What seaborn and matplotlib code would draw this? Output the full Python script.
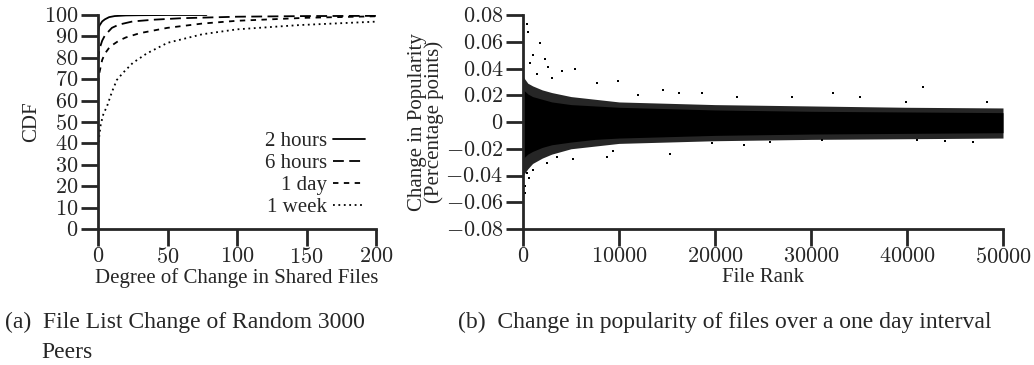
import numpy as np
import seaborn as sns
import matplotlib.pyplot as plt

sns.set_style('ticks')
plt.rcParams['font.family'] = ['Liberation Serif', 'DejaVu Serif']
plt.rcParams['mathtext.fontset'] = 'cm'

# (a) CDF of degree of change in shared files
deg_2h = [0, 1, 3, 5, 8, 12, 20, 30, 50, 78]
cdf_2h = [92, 95, 97, 98, 99, 99.5, 99.8, 99.9, 100, 100]
deg_6h = [0, 1, 3, 5, 10, 15, 25, 40, 60, 100, 150, 200]
cdf_6h = [78, 84, 88, 90.5, 94, 95.5, 97, 97.8, 98.5, 99.2, 99.5, 99.6]
deg_1d = [0, 1, 3, 5, 8.6, 15, 20, 30, 50, 75, 100, 150, 200]
cdf_1d = [68, 73, 79, 82, 85.2, 88, 89.5, 91.5, 94, 96, 97.3, 98.7, 99.4]
deg_1w = [0, 1, 2, 4, 6.3, 10, 13.5, 18, 25, 35, 50, 75, 100, 145, 200]
cdf_1w = [38, 44, 49, 54, 57, 64, 69.6, 73, 77.6, 82, 87, 91, 93.3, 95.3, 96.9]
x1_ticks = [0, 50, 100, 150, 200]
y1_ticks = [0, 10, 20, 30, 40, 50, 60, 70, 80, 90, 100]

# (b) change in popularity vs file rank: dense core, speckled fringe, stray points
rank_env = [0, 200, 500, 1000, 2000, 3000, 5000, 7500, 10000, 15000, 20000, 30000, 40000, 50000]
core_hi = [0.024, 0.023, 0.021, 0.019, 0.017, 0.015, 0.013, 0.012, 0.011, 0.010, 0.009, 0.008, 0.0075, 0.007]
core_lo = [-0.027, -0.026, -0.024, -0.022, -0.019, -0.017, -0.015, -0.013, -0.012, -0.011, -0.010, -0.009, -0.0085, -0.008]
fringe_hi = [0.034, 0.032, 0.029, 0.027, 0.024, 0.022, 0.019, 0.017, 0.015, 0.014, 0.013, 0.012, 0.011, 0.0105]
fringe_lo = [-0.040, -0.038, -0.035, -0.031, -0.027, -0.024, -0.020, -0.018, -0.016, -0.015, -0.014, -0.013, -0.0125, -0.012]
out_rank = [385, 550, 1770, 1040, 2290, 4030, 5420, 9930, 7680, 1500, 3000, 2600, 700,
            385, 1040, 210, 200, 9375, 5210, 8720, 600, 2500, 3500,
            14550, 16250, 18600, 32330, 41650, 35100, 27990, 22260, 39870, 48300, 12000,
            15310, 19660, 41010, 46910, 25730, 31110, 23000, 44000]
out_val = [0.073, 0.067, 0.059, 0.050, 0.047, 0.038, 0.040, 0.031, 0.029, 0.036, 0.033, 0.041, 0.044,
           -0.038, -0.036, -0.048, -0.053, -0.022, -0.028, -0.026, -0.042, -0.031, -0.026,
           0.0236, 0.022, 0.022, 0.0217, 0.026, 0.0187, 0.0184, 0.019, 0.015, 0.0147, 0.020,
           -0.0237, -0.016, -0.0132, -0.0153, -0.0153, -0.0132, -0.017, -0.014]
x2_ticks = [0, 10000, 20000, 30000, 40000, 50000]
y2_ticks = [-0.08, -0.06, -0.04, -0.02, 0, 0.02, 0.04, 0.06, 0.08]
y2_labels = ['-0.08', '-0.06', '-0.04', '-0.02', '0', '0.02', '0.04', '0.06', '0.08']

fig = plt.figure(figsize=(10.34, 3.65), dpi=100)
ax1 = fig.add_axes([98 / 1034, 1 - 229 / 365, 278 / 1034, 214 / 365])
ax2 = fig.add_axes([523 / 1034, 1 - 229 / 365, 480 / 1034, 214 / 365])

sns.lineplot(x=deg_2h, y=cdf_2h, ax=ax1, color='black', lw=1.3, label='2 hours')
sns.lineplot(x=deg_6h, y=cdf_6h, ax=ax1, color='black', lw=1.3, label='6 hours')
sns.lineplot(x=deg_1d, y=cdf_1d, ax=ax1, color='black', lw=1.3, label='1 day')
sns.lineplot(x=deg_1w, y=cdf_1w, ax=ax1, color='black', lw=1.3, label='1 week')
styles = ['-', (0, (6, 3)), (0, (3, 3)), (0, (1, 2))]
for line, ls in zip(ax1.get_lines(), styles):
    line.set_linestyle(ls)
ax1.set_xlim(0, 200)
ax1.set_ylim(0, 100)
ax1.set_xticks(x1_ticks, ['$%d$' % v for v in x1_ticks])
ax1.set_yticks(y1_ticks, ['$%d$' % v for v in y1_ticks])
ax1.set_xlabel('Degree of Change in Shared Files', fontsize=15, labelpad=0)
ax1.set_ylabel('CDF', fontsize=15, labelpad=2)
leg = ax1.legend(loc='lower right', bbox_to_anchor=(0.99, 0.015), borderaxespad=0, frameon=False,
                 markerfirst=False, fontsize=15, handlelength=1.55, handletextpad=0.25, labelspacing=0.12)
for t in leg.get_texts():
    t.set_ha('right')
for ls, h in zip(styles, leg.get_lines()):
    h.set_linestyle(ls)

ax2.fill_between(rank_env, fringe_lo, fringe_hi, color='0.15', lw=0)
ax2.fill_between(rank_env, core_lo, core_hi, color='black', lw=0)
sns.scatterplot(x=out_rank, y=out_val, ax=ax2, color='black', s=2.5, marker='s', linewidth=0)
ax2.set_xlim(0, 50000)
ax2.set_ylim(-0.08, 0.08)
ax2.set_xticks(x2_ticks, ['$%d$' % v for v in x2_ticks])
ax2.set_yticks(y2_ticks, ['$%s$' % s for s in y2_labels])
ax2.set_xlabel('File Rank', fontsize=15, labelpad=0)
ax2.set_ylabel('Change in Popularity\n(Percentage points)', fontsize=15, labelpad=1, linespacing=0.85)

for ax in (ax1, ax2):
    sns.despine(ax=ax)
    for s in ('left', 'bottom'):
        ax.spines[s].set_linewidth(2)
    ax.tick_params(direction='out', length=12, width=2, labelsize=16, pad=2)
    ax.grid(False)

fig.text(5 / 1034, 1 - 322 / 365, '(a)  File List Change of Random 3000', fontsize=17, va='center')
fig.text(41 / 1034, 1 - 352 / 365, 'Peers', fontsize=17, va='center')
fig.text(458 / 1034, 1 - 322 / 365, '(b)  Change in popularity of files over a one day interval',
         fontsize=17, va='center')

fig.savefig('out.png', dpi=100)
